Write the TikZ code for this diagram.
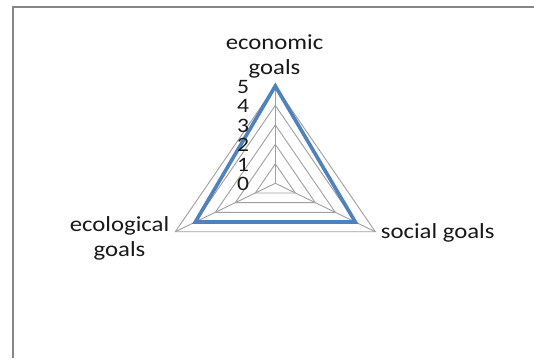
\documentclass[tikz,border=0pt]{standalone}
\usepackage{fontspec}
\setmainfont{Carlito}[FakeStretch=1.15]
\definecolor{gridgray}{HTML}{A0A0A0}
\definecolor{framegray}{HTML}{868686}
\definecolor{seriesblue}{HTML}{4F81BD}
\begin{document}
\begin{tikzpicture}[x=1pt,y=-1pt,
  grid/.style={draw=gridgray,line width=0.9pt},
  series/.style={draw=seriesblue,line width=3.6pt,line join=miter},
  axislabel/.style={inner sep=0pt,text=black!90,font=\fontsize{21.5}{25}\selectfont,align=center},
  ticklabel/.style={inner sep=0pt,text=black!90,font=\fontsize{20.5}{20.5}\selectfont,anchor=east}]
\useasboundingbox (0,0) rectangle (534,358);
\fill[white] (0,0) rectangle (534,358);
\draw[draw=framegray,line width=2pt] (13.3,358) -- (13.3,6.7) -- (534,6.7);
\coordinate (O) at (275.3,183.3);
\foreach \k in {1,...,5} {
  \path (O) ++(0,-19.46*\k) coordinate (T\k);
  \path (O) ++(-20*\k,9.68*\k) coordinate (L\k);
  \path (O) ++(20*\k,9.68*\k) coordinate (R\k);
}
\foreach \k in {1,...,5} {
  \draw[grid] (T\k) -- (R\k) -- (L\k) -- cycle;
}
\draw[grid] (O) -- (T5);
\draw[grid] (O) -- (L5);
\draw[grid] (O) -- (R5);
\draw[series] (T5) -- (R4) -- (L4) -- cycle;
\foreach \k in {0,...,5} {
  \path (O) ++(-26,-19.46*\k+0.8) node[ticklabel] (tick\k) {\k};
}
\node[axislabel,anchor=south] (econ) at (274.5,78) {economic\\goals};
\node[axislabel,anchor=south] (ecol) at (119.5,260) {ecological\\goals};
\node[axislabel,anchor=base west] (soc) at (380.7,238.5) {social goals};
\end{tikzpicture}
\end{document}
